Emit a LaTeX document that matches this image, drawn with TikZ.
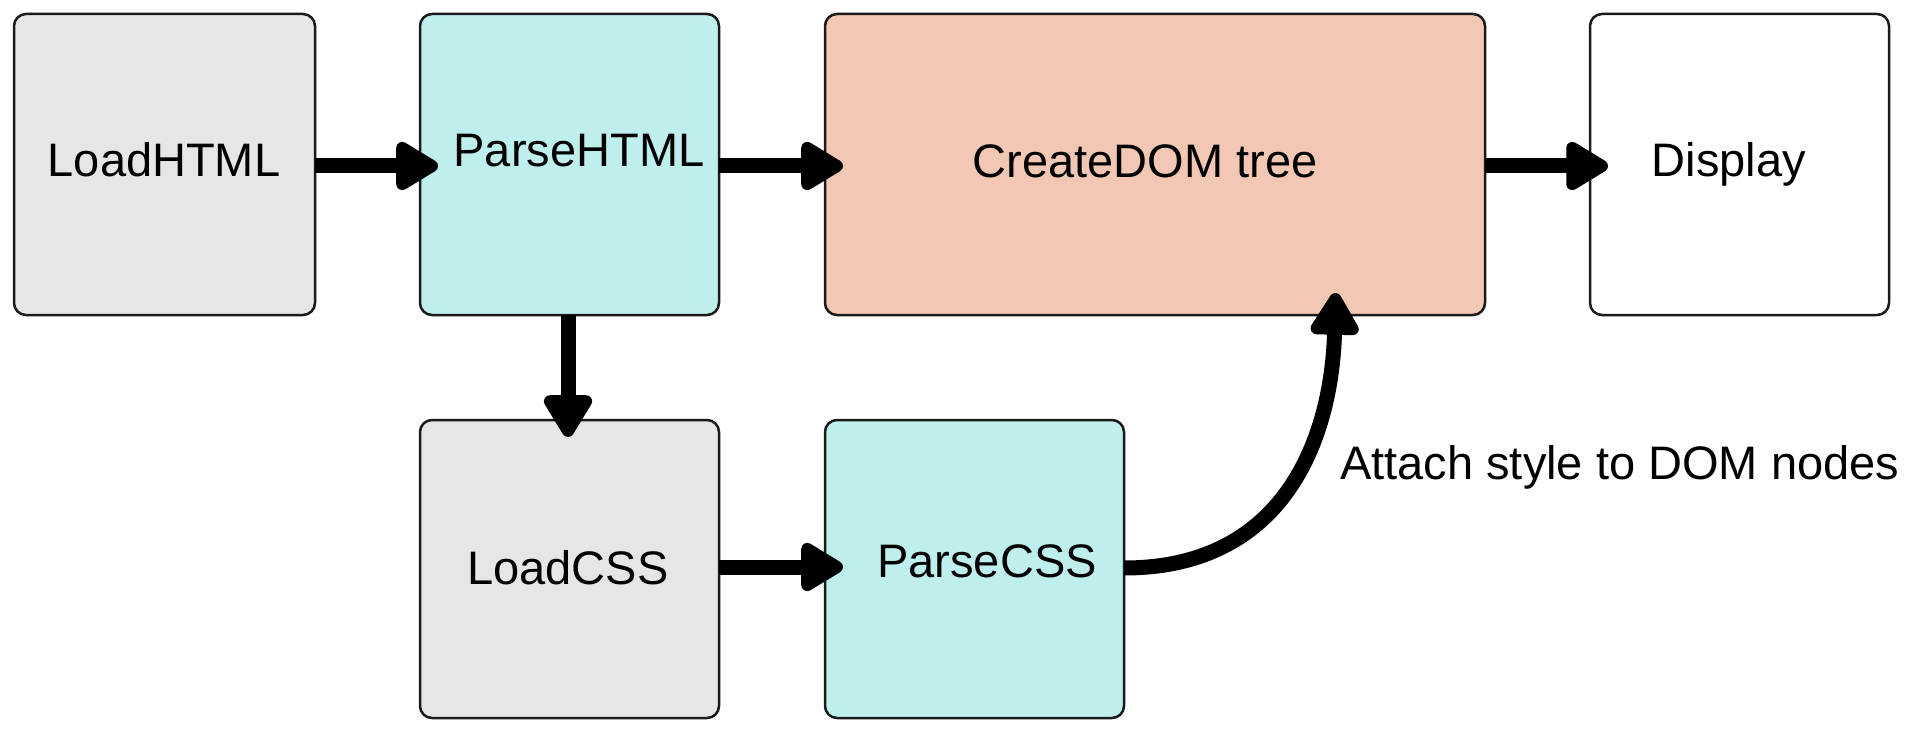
\documentclass[tikz,border=0pt]{standalone}
\usepackage{fontspec}
\setmainfont{Liberation Sans}
\usetikzlibrary{arrows.meta}
\definecolor{boxgray}{HTML}{E6E6E6}
\definecolor{boxcyan}{HTML}{BEEFED}
\definecolor{boxsalmon}{HTML}{F2C7B3}
\definecolor{boxline}{HTML}{1A1A1A}
\tikzset{
  box/.style={draw=boxline, line width=2.5pt, rounded corners=12pt, inner sep=0pt, outer sep=0pt},
  lbl/.style={anchor=base, inner sep=0pt, font=\fontsize{47}{56}\selectfont},
  flow/.style={line width=15pt, -{Triangle[length=48pt,width=54pt,round]}},
}
\begin{document}
\begin{tikzpicture}[x=1pt,y=-1pt]
\useasboundingbox (0,0) rectangle (1905,735);
% boxes
\node[box, fill=boxgray, minimum width=301pt, minimum height=301pt] (lh) at (164.5,164.5) {};
\node[box, fill=boxcyan, minimum width=299pt, minimum height=301pt] (ph) at (569.5,164.5) {};
\node[box, fill=boxsalmon, minimum width=660pt, minimum height=301pt] (dom) at (1155,164.5) {};
\node[box, fill=white, minimum width=299pt, minimum height=301pt] (disp) at (1739.5,164.5) {};
\node[box, fill=boxgray, minimum width=299pt, minimum height=298pt] (lc) at (569.5,569) {};
\node[box, fill=boxcyan, minimum width=299pt, minimum height=298pt] (pc) at (974.5,569) {};
% texts
\node[lbl] (tlh) at (164,177) {LoadHTML};
\node[lbl] (tph) at (579,167) {ParseHTML};
\node[lbl] (tdom) at (1145,178) {CreateDOM tree};
\node[lbl] (tdisp) at (1729,177) {Display};
\node[lbl] (tlc) at (568,584) {LoadCSS};
\node[lbl] (tpc) at (987,577) {ParseCSS};
\node[lbl, anchor=base west] (tattach) at (1340,479) {Attach style to DOM nodes};
% connectors
\coordinate (domin) at (1335,315);
\draw[flow, shorten >=-18pt] (lh.east |- 0,166) -- (ph.west |- 0,166);
\draw[flow, shorten >=-18pt] (ph.east |- 0,166) -- (dom.west |- 0,166);
\draw[flow, shorten >=-18pt] (dom.east |- 0,166) -- (disp.west |- 0,166);
\draw[flow, shorten >=-17pt] (ph.south -| 568,0) -- (lc.north -| 568,0);
\draw[flow, shorten >=-18pt] (lc.east |- 0,567) -- (pc.west |- 0,567);
\draw[flow, shorten >=-22pt] (pc.east |- 0,568) .. controls (1290,568) and (1332,430) .. (domin);
\end{tikzpicture}
\end{document}
